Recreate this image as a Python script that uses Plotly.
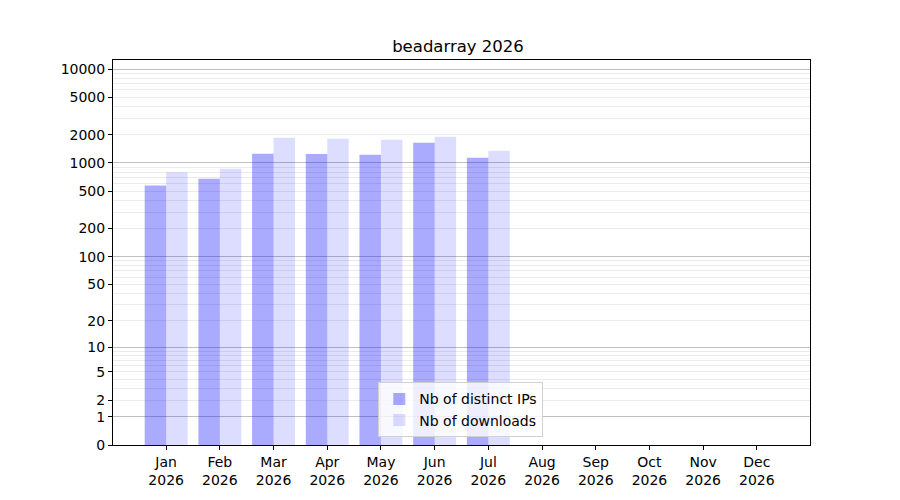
import math
import plotly.graph_objects as go

months = ["Jan", "Feb", "Mar", "Apr", "May", "Jun", "Jul", "Aug", "Sep", "Oct", "Nov", "Dec"]
year = "2026"
distinct_ips = [574, 681, 1257, 1250, 1226, 1645, 1139]
downloads = [795, 870, 1860, 1815, 1770, 1906, 1352]
tick_values = [0, 1, 2, 5, 10, 20, 50, 100, 200, 500, 1000, 2000, 5000, 10000]
major_grid_values = [1, 10, 100, 1000, 10000]
minor_grid_values = [m * d for d in [1, 10, 100, 1000] for m in range(2, 10)]


def tr(v):
    # symmetric-log style transform: log10(1 + v)
    return math.log10(1 + v)


x_idx = list(range(len(distinct_ips)))
ymax = 4.096

fig = go.Figure()
fig.add_trace(go.Bar(
    x=x_idx, y=[tr(v) for v in distinct_ips], name="Nb of distinct IPs",
    marker=dict(color="rgba(0,0,255,0.333)", line=dict(width=0)),
    customdata=distinct_ips, hovertemplate="%{customdata}<extra></extra>",
))
fig.add_trace(go.Bar(
    x=x_idx, y=[tr(v) for v in downloads], name="Nb of downloads",
    marker=dict(color="rgba(0,0,255,0.133)", line=dict(width=0)),
    customdata=downloads, hovertemplate="%{customdata}<extra></extra>",
))
# invisible trace on overlay axis to host decade gridlines
fig.add_trace(go.Scatter(x=[0], y=[0], yaxis="y2", mode="markers",
                         marker=dict(opacity=0), showlegend=False, hoverinfo="skip"))

font = dict(family="DejaVu Sans", size=14, color="black")
fig.update_layout(
    width=900, height=500,
    margin=dict(l=105, r=98, t=52, b=63),
    paper_bgcolor="white", plot_bgcolor="white",
    font=font,
    title=dict(text="beadarray 2026", x=0.5, xanchor="center", y=1 - 38 / 500, yanchor="middle",
               font=dict(family="DejaVu Sans", size=16.5, color="black")),
    barmode="group", bargap=0.2, bargroupgap=0,
    xaxis=dict(
        range=[-0.99, 11.99], tickmode="array", tickvals=list(range(12)),
        ticktext=[f"{m}<br>{year}" for m in months],
        ticks="outside", ticklen=4, tickcolor="black",
        showline=True, linecolor="black", linewidth=1, mirror=True,
        showgrid=False, zeroline=False,
    ),
    yaxis=dict(
        range=[0, ymax], tickmode="array", tickvals=[tr(t) for t in tick_values],
        ticktext=[str(t) for t in tick_values],
        ticks="outside", ticklen=4, tickcolor="black",
        showline=True, linecolor="black", linewidth=1, mirror=True,
        showgrid=False, zeroline=False,
        minor=dict(tickmode="array", tickvals=[tr(v) for v in minor_grid_values],
                   showgrid=True, gridcolor="#ebebeb", gridwidth=1, ticks=""),
    ),
    yaxis2=dict(
        range=[0, ymax], overlaying="y", tickmode="array",
        tickvals=[tr(v) for v in major_grid_values], showticklabels=False,
        showgrid=True, gridcolor="#c0c0c0", gridwidth=1, ticks="", zeroline=False,
        showline=False,
    ),
    legend=dict(
        x=0.499, xanchor="center", y=0.02, yanchor="bottom",
        bgcolor="rgba(255,255,255,0.8)", bordercolor="#d0d0d0", borderwidth=1,
        font=font, tracegroupgap=0,
    ),
    showlegend=True,
)

fig.write_html("out.html")
